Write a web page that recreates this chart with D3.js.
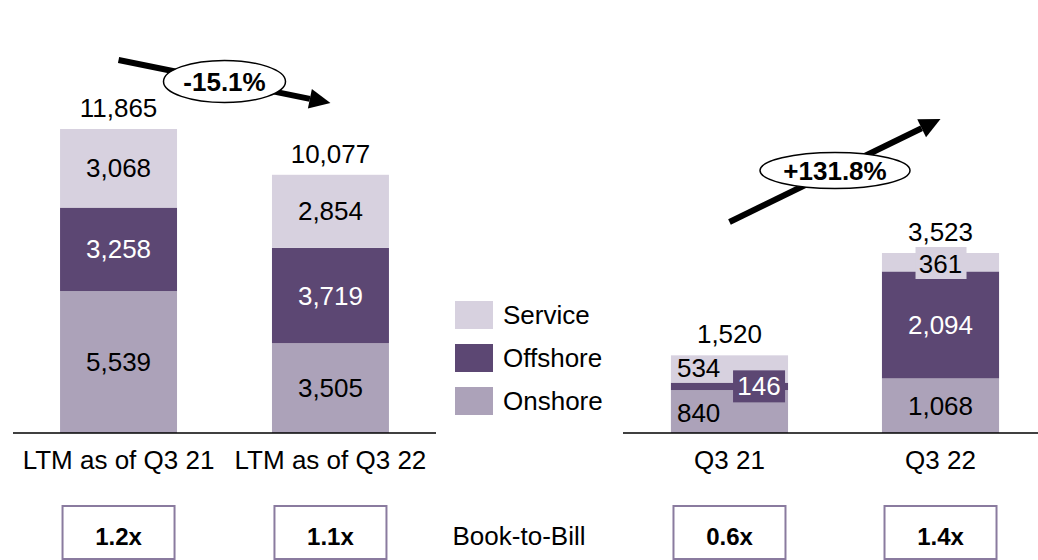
<!DOCTYPE html>
<html>
<head>
<meta charset="utf-8">
<script src="https://cdn.jsdelivr.net/npm/d3@7"></script>
<style>
  body { margin: 0; background: #fff; }
  svg { font-family: Arial, "Liberation Sans", sans-serif; }
</style>
</head>
<body>
<script>
// data
var ltmCats = ['LTM as of Q3 21', 'LTM as of Q3 22']
var ltmService = [3068, 2854]
var ltmOffshore = [3258, 3719]
var ltmOnshore = [5539, 3505]
var ltmTotals = [11865, 10077]
var ltmChange = '-15.1%'
var ltmBtb = ['1.2x', '1.1x']

var qCats = ['Q3 21', 'Q3 22']
var qService = [534, 361]
var qOffshore = [146, 2094]
var qOnshore = [840, 1068]
var qTotals = [1520, 3523]
var qChange = '+131.8%'
var qBtb = ['0.6x', '1.4x']

var legendNames = ['Service', 'Offshore', 'Onshore']

var width = 1038, height = 560
var base = 433
var colors = { Service: '#d7d1df', Offshore: '#5c4773', Onshore: '#aca2b9' }
var fs = 26

var svg = d3.select('body').append('svg')
    .attr('width', width)
    .attr('height', height)

function rows(cats, sv, of, on, tot) {
    return cats.map(function (c, i) {
        return { cat: c, Service: sv[i], Offshore: of[i], Onshore: on[i], total: tot[i] }
    })
}

var stack = d3.stack().keys(['Onshore', 'Offshore', 'Service'])

function drawPanel(data, x, y, axisFrom, axisTo, opts) {
    var g = svg.append('g')
    var layers = stack(data)

    layers.forEach(function (layer) {
        g.selectAll(null)
            .data(layer)
            .enter()
            .append('rect')
            .attr('x', function (d) { return x(d.data.cat) })
            .attr('width', x.bandwidth())
            .attr('y', function (d) { return y(d[1]) })
            .attr('height', function (d) { return y(d[0]) - y(d[1]) })
            .attr('fill', colors[layer.key])
    })

    // segment labels
    layers.forEach(function (layer) {
        layer.forEach(function (d, i) {
            var v = d[1] - d[0]
            var cx = x(d.data.cat) + x.bandwidth() / 2
            var cy = (y(d[0]) + y(d[1])) / 2
            var txt = d3.format(',')(v)
            var special = opts.special && opts.special(layer.key, i)
            var white = layer.key === 'Offshore'
            if (special === 'left') {
                g.append('text').attr('x', x(d.data.cat) + 6)
                    .attr('y', layer.key === 'Service' ? y(d[0]) - 6 : base - 11)
                    .attr('font-size', fs).attr('fill', '#000').text(txt)
            } else if (special === 'boxright') {
                var bx = x(d.data.cat) + x.bandwidth() - 55
                g.append('rect').attr('x', bx).attr('y', cy - 16)
                    .attr('width', 52).attr('height', 32).attr('fill', colors.Offshore)
                g.append('text').attr('x', bx + 26).attr('y', cy + 9)
                    .attr('text-anchor', 'middle').attr('font-size', fs)
                    .attr('fill', '#fff').text(txt)
            } else if (special === 'boxtop') {
                g.append('rect').attr('x', cx - 25).attr('y', y(d[1]) - 6)
                    .attr('width', 51).attr('height', 32).attr('fill', colors.Service)
                g.append('text').attr('x', cx).attr('y', y(d[1]) + 20)
                    .attr('text-anchor', 'middle').attr('font-size', fs)
                    .attr('fill', '#000').text(txt)
            } else {
                g.append('text').attr('x', cx).attr('y', cy + 9)
                    .attr('text-anchor', 'middle').attr('font-size', fs)
                    .attr('fill', white ? '#fff' : '#000').text(txt)
            }
        })
    })

    // totals
    g.selectAll('.total')
        .data(data)
        .enter()
        .append('text')
        .attr('x', function (d) { return x(d.cat) + x.bandwidth() / 2 })
        .attr('y', function (d) { return y(d.total) - 12 })
        .attr('text-anchor', 'middle')
        .attr('font-size', fs)
        .text(function (d) { return d3.format(',')(d.total) })

    // baseline + categories
    g.append('line')
        .attr('x1', axisFrom).attr('x2', axisTo)
        .attr('y1', base).attr('y2', base)
        .attr('stroke', '#000').attr('stroke-width', 1.6)

    g.selectAll('.cat')
        .data(data)
        .enter()
        .append('text')
        .attr('x', function (d) { return x(d.cat) + x.bandwidth() / 2 })
        .attr('y', 469)
        .attr('text-anchor', 'middle')
        .attr('font-size', fs)
        .text(function (d) { return d.cat })

    // growth arrow between bar centres
    var x1 = x(data[0].cat) + x.bandwidth() / 2
    var x2 = x(data[1].cat) + x.bandwidth() / 2
    var y1 = opts.arrowY[0], y2 = opts.arrowY[1]
    var ang = Math.atan2(y2 - y1, x2 - x1)
    var headLen = 21, headW = 10
    var bxs = x2 - headLen * Math.cos(ang), bys = y2 - headLen * Math.sin(ang)
    g.append('line')
        .attr('x1', x1).attr('y1', y1).attr('x2', bxs).attr('y2', bys)
        .attr('stroke', '#000').attr('stroke-width', 6)
    g.append('path')
        .attr('d', d3.line()([
            [x2, y2],
            [bxs + headW * Math.sin(ang), bys - headW * Math.cos(ang)],
            [bxs - headW * Math.sin(ang), bys + headW * Math.cos(ang)]
        ]) + 'Z')
        .attr('fill', '#000')
    var mx = (x1 + x2) / 2, my = (y1 + y2) / 2
    g.append('ellipse')
        .attr('cx', mx).attr('cy', my)
        .attr('rx', opts.ell[0]).attr('ry', opts.ell[1])
        .attr('fill', '#fff').attr('stroke', '#000').attr('stroke-width', 1.5)
    g.append('text')
        .attr('x', mx).attr('y', my + 9)
        .attr('text-anchor', 'middle')
        .attr('font-size', 26).attr('font-weight', 'bold')
        .text(opts.change)

    // book-to-bill boxes
    g.selectAll('.btb')
        .data(opts.btb)
        .enter()
        .append('rect')
        .attr('x', function (d, i) { return x(data[i].cat) + x.bandwidth() / 2 - 56 })
        .attr('y', 506)
        .attr('width', 112)
        .attr('height', 53)
        .attr('fill', '#fff')
        .attr('stroke', '#8a7b9f')
        .attr('stroke-width', 2)
    g.selectAll('.btbt')
        .data(opts.btb)
        .enter()
        .append('text')
        .attr('x', function (d, i) { return x(data[i].cat) + x.bandwidth() / 2 })
        .attr('y', 545)
        .attr('text-anchor', 'middle')
        .attr('font-size', 24).attr('font-weight', 'bold')
        .text(function (d) { return d })
}

// left panel: LTM
var xL = d3.scaleBand().domain(ltmCats).range([13, 436]).paddingInner(0.448).paddingOuter(0.222)
var yL = d3.scaleLinear().domain([0, 11865]).range([base, 129])
drawPanel(rows(ltmCats, ltmService, ltmOffshore, ltmOnshore, ltmTotals), xL, yL, 13, 436, {
    arrowY: [60, 103], ell: [61, 21], change: ltmChange, btb: ltmBtb
})

// right panel: quarter
var xR = d3.scaleBand().domain(qCats).range([592, 1078]).paddingInner(0.445).paddingOuter(0.374)
var yR = d3.scaleLinear().domain([0, 3523]).range([base, 253])
drawPanel(rows(qCats, qService, qOffshore, qOnshore, qTotals), xR, yR, 623, width, {
    arrowY: [222, 119], ell: [75, 18], change: qChange, btb: qBtb,
    special: function (key, i) {
        if (i === 0 && key === 'Offshore') return 'boxright'
        if (i === 0) return 'left'
        if (i === 1 && key === 'Service') return 'boxtop'
        return null
    }
})

// legend
var leg = svg.append('g').attr('transform', 'translate(455,301)')
leg.selectAll('rect')
    .data(legendNames)
    .enter()
    .append('rect')
    .attr('x', 0)
    .attr('y', function (d, i) { return i * 43 })
    .attr('width', 38)
    .attr('height', 28)
    .attr('fill', function (d) { return colors[d] })
leg.selectAll('text')
    .data(legendNames)
    .enter()
    .append('text')
    .attr('x', 48)
    .attr('y', function (d, i) { return i * 43 + 23 })
    .attr('font-size', fs)
    .text(function (d) { return d })

svg.append('text')
    .attr('x', 519).attr('y', 545)
    .attr('text-anchor', 'middle')
    .attr('font-size', fs)
    .text('Book-to-Bill')
</script>
</body>
</html>
